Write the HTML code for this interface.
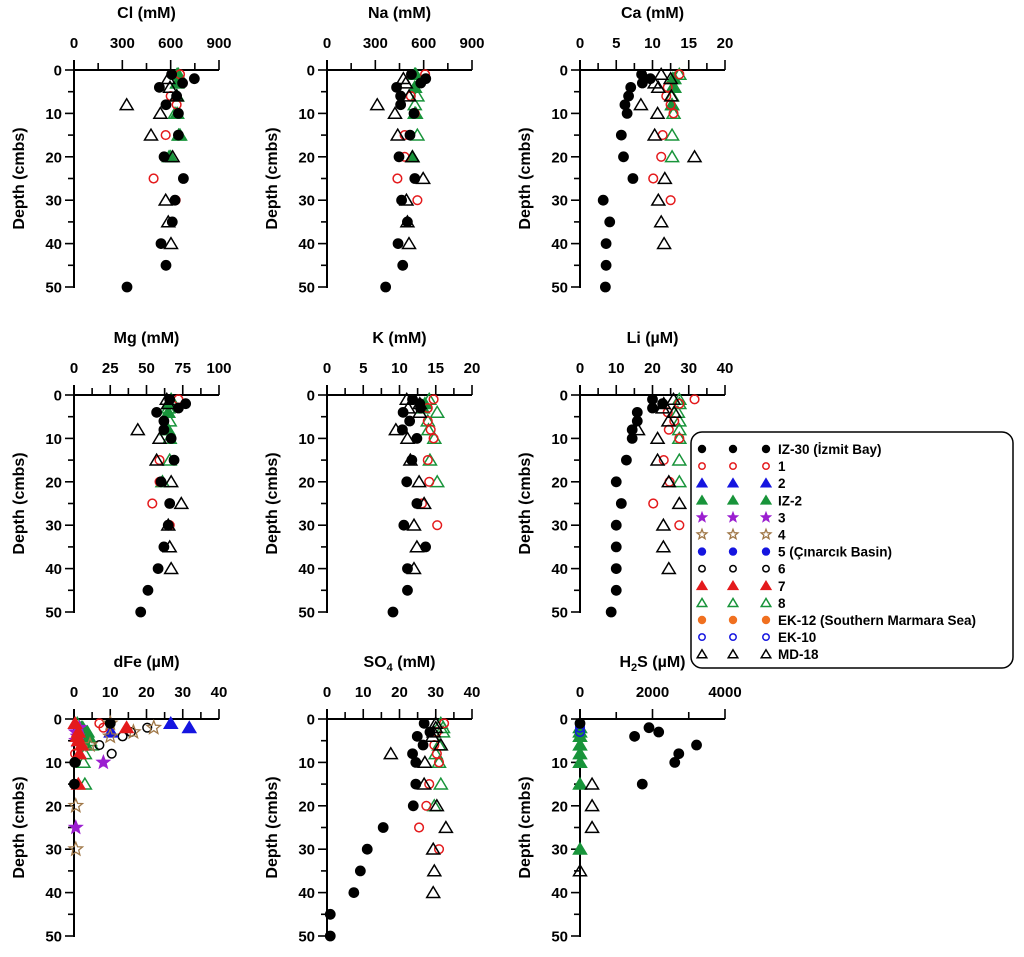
<!DOCTYPE html>
<html><head><meta charset="utf-8">
<style>
html,body{margin:0;padding:0;background:#fff;}
svg{display:block;font-family:"Liberation Sans",Arial,sans-serif;font-weight:bold;}
</style></head>
<body>
<svg id="chart" width="1024" height="957" viewBox="0 0 1024 957" xmlns="http://www.w3.org/2000/svg"></svg>
<script>
// ---- data: [depth (cmbs), value] pairs per station ----
const clIZ30=[[1,606],[2,747],[3,674],[4,530],[6,637],[8,571],[10,648],[15,648],[20,559],[25,679],[30,627],[35,610],[40,540],[45,571],[50,329]];
const cl1=[[1,658],[6,600],[8,637],[10,648],[15,569],[20,559],[25,494],[30,631]];
const clIZ2=[[1,640],[3,640],[6,640],[10,640],[15,650],[20,590]];
const cl8=[[1,648],[3,640],[6,637],[10,627],[15,658],[20,600]];
const clMD18=[[2,585],[4,596],[6,637],[8,327],[10,536],[15,478],[20,612],[30,569],[35,585],[40,602]];

const naIZ30=[[1,524],[2,613],[3,582],[4,432],[6,457],[8,457],[10,540],[15,515],[20,447],[25,545],[30,463],[35,499],[40,441],[45,470],[50,364]];
const na1=[[1,609],[6,520],[10,545],[15,482],[20,482],[25,437],[30,561]];
const naIZ2=[[1,545],[4,545],[10,545],[20,530]];
const na8=[[1,551],[4,545],[6,561],[8,545],[10,551],[15,561],[20,530]];
const naMD18=[[2,474],[3,489],[6,509],[8,312],[10,422],[15,439],[20,530],[25,597],[30,493],[35,499],[40,509]];

const caIZ30=[[1,8.5],[2,9.7],[3,8.6],[4,7.0],[6,6.7],[8,6.2],[10,6.5],[15,5.7],[20,6.0],[25,7.3],[30,3.2],[35,4.1],[40,3.6],[45,3.6],[50,3.5]];
const ca1=[[1,13.7],[4,12.1],[6,11.9],[8,12.5],[10,12.9],[15,11.4],[20,11.2],[25,10.1],[30,12.5]];
const caIZ2=[[2,12.8],[4,12.8],[8,12.7]];
const ca8=[[1,13.7],[2,13.0],[4,13.0],[6,12.7],[8,12.7],[10,12.9],[15,12.7],[20,12.7]];
const caMD18=[[1,11.2],[2,12.5],[3,10.3],[4,10.8],[6,12.6],[8,8.4],[10,10.7],[15,10.3],[20,15.8],[25,11.7],[30,10.8],[35,11.2],[40,11.6]];

const mgIZ30=[[1,66],[2,77],[3,72],[4,57],[6,62],[8,62],[10,67],[15,69],[20,60],[25,66],[30,65],[35,62],[40,58],[45,51],[50,46]];
const mg1=[[1,72],[6,62],[10,67],[15,59],[20,59],[25,54],[30,66]];
const mgIZ2=[[2,65],[4,65],[8,64]];
const mg8=[[1,67],[3,65],[6,66],[8,65],[10,66],[15,66],[20,61]];
const mgMD18=[[1,64],[2,65],[8,44],[10,59],[15,57],[20,67],[25,74],[30,65],[35,66],[40,67]];

const kIZ30=[[1,11.8],[2,12.8],[3,12.9],[4,10.5],[6,11.4],[8,10.4],[10,12.4],[15,11.7],[20,11.0],[25,12.4],[30,10.6],[35,13.6],[40,11.1],[45,11.1],[50,9.1]];
const k1=[[1,14.7],[3,13.9],[6,13.9],[8,14.3],[10,14.7],[15,13.9],[20,14.1],[25,13.1],[30,15.2]];
const kIZ2=[[2,13.5],[3,13.2]];
const k8=[[1,14.1],[4,15.2],[6,13.9],[8,14.0],[10,14.8],[15,14.2],[20,15.2]];
const kMD18=[[1,11.0],[2,12.8],[3,11.2],[4,12.8],[8,9.5],[10,11.1],[15,11.5],[20,12.7],[25,13.4],[30,12.0],[35,12.4],[40,12.0]];

const liIZ30=[[1,20.0],[2,22.8],[3,20.0],[4,15.8],[6,15.8],[8,14.4],[10,14.4],[15,12.8],[20,10.0],[25,11.4],[30,10.0],[35,10.0],[40,10.0],[45,10.0],[50,8.6]];
const li1=[[1,31.6],[2,27.4],[4,24.2],[6,26.0],[8,24.5],[10,27.4],[15,23.1],[20,24.7],[25,20.2],[30,27.4]];
const li8=[[1,27.4],[2,27.4],[4,27.0],[6,27.4],[8,27.4],[10,27.4],[15,27.4],[20,27.4]];
const liMD18=[[1,25.8],[2,23.1],[3,22.8],[4,26.0],[6,24.4],[8,16.0],[10,21.4],[15,21.4],[20,24.5],[25,27.4],[30,23.0],[35,23.0],[40,24.5]];

const feIZ30=[[1,10],[10,0.2],[15,0.1]];
const fe1=[[1,7.0],[2,8.1],[8,0.3]];
const fe2=[[1,26.7],[2,31.8],[3,10.2]];
const feIZ2=[[2,2.4],[3,3.3],[4,3.7],[6,3.3]];
const fe3=[[2,1.5],[3,0.5],[4,1.0],[5,0.6],[10,8.1],[25,0.5]];
const fe4=[[1,10],[2,22],[3,16.4],[4,10],[6,4.4],[20,0.5],[30,0.5]];
const fe6=[[2,20.2],[3,15.7],[4,13.4],[6,7.0],[8,10.4],[10,0.5],[15,0.1]];
const fe7=[[1,0.3],[2,14.5],[3,1.2],[4,0.9],[5,1.2],[6,2.1],[8,1.5],[15,1.2]];
const fe8=[[1,0.9],[2,2.1],[3,3.7],[4,4.0],[5,4.4],[6,4.9],[8,3.0],[10,2.6],[15,3.0]];

const so4IZ30=[[1,26.8],[3,28.4],[4,24.9],[6,26.5],[8,23.6],[10,24.5],[15,24.5],[20,23.8],[25,15.5],[30,11.1],[35,9.2],[40,7.4],[45,0.9],[50,0.9]];
const so41=[[1,32.3],[3,30.3],[6,29.6],[8,30.3],[10,30.9],[15,28.2],[20,27.4],[25,25.4],[30,30.9]];
const so48=[[1,31.4],[2,32.0],[3,32.0],[6,30.9],[8,30.0],[10,30.9],[15,31.4],[20,29.6]];
const so4MD18=[[1,30.0],[2,30.0],[3,29.4],[4,29.1],[6,31.4],[8,17.6],[10,27.0],[15,26.8],[20,30.3],[25,32.8],[30,29.3],[35,29.6],[40,29.3]];

const h2sIZ30=[[1,0],[2,1903],[3,2171],[4,1506],[6,3215],[8,2725],[10,2614],[15,1718]];
const h2sIZ2=[[2,0],[3,0],[4,0],[6,0],[8,0],[10,0],[15,0],[30,0]];
const h2sEK10=[[1,0],[2,0],[3,0]];
const h2sMD18=[[15,333],[20,333],[25,333],[35,0]];

const clTicks=["0","300","600","900"], caTicks=["0","5","10","15","20"], mgTicks=["0","25","50","75","100"], fe40Ticks=["0","10","20","30","40"], h2sTicks=["0","2000","4000"];
const depthTicks=["0","10","20","30","40","50"];

const legendLabels=["IZ-30 (İzmit Bay)","1","2","IZ-2","3","4","5 (Çınarcık Basin)","6","7","8","EK-12 (Southern Marmara Sea)","EK-10","MD-18"];
const legendKeys=["IZ30","s1","s2","IZ2","s3","s4","s5","s6","s7","s8","EK12","EK10","MD18"];

const svg=document.getElementById('chart');
const NS='http://www.w3.org/2000/svg';
function mk(tag,attrs,parent){const e=document.createElementNS(NS,tag);for(const k in attrs)e.setAttribute(k,attrs[k]);(parent||svg).appendChild(e);return e;}

function starPts(cx,cy,R,r){let p=[];for(let i=0;i<10;i++){const a=-Math.PI/2+i*Math.PI/5;const rr=i%2?r:R;p.push((cx+rr*Math.cos(a)).toFixed(1)+','+(cy+rr*Math.sin(a)).toFixed(1));}return p.join(' ');}
function marker(key,x,y,g,s){
  s=s||1.08; let e;
  const tri=(fill,stroke)=>mk('polygon',{points:`${x},${y-5.5*s} ${x-6*s},${y+4.5*s} ${x+6*s},${y+4.5*s}`,fill:fill,stroke:stroke,'stroke-width':1.5},g);
  const circ=(fill,stroke,r)=>mk('circle',{cx:x,cy:y,r:r*s,fill:fill,stroke:stroke,'stroke-width':1.5},g);
  switch(key){
    case 'IZ30': e=circ('#000','#000',4.3);break;
    case 's1': e=circ('none','#e41a1c',4);break;
    case 's2': e=tri('#1515e0','#1515e0');break;
    case 'IZ2': e=tri('#18943a','#18943a');break;
    case 's3': e=mk('polygon',{points:starPts(x,y,6.5*s,2.8*s),fill:'#9b1fd0',stroke:'#9b1fd0'},g);break;
    case 's4': e=mk('polygon',{points:starPts(x,y,6.5*s,2.8*s),fill:'none',stroke:'#a07848','stroke-width':1.3},g);break;
    case 's5': e=circ('#1515e0','#1515e0',4.3);break;
    case 's6': e=circ('none','#000',4);break;
    case 's7': e=tri('#e41a1c','#e41a1c');break;
    case 's8': e=tri('none','#18943a');break;
    case 'EK12': e=circ('#f07020','#f07020',4.3);break;
    case 'EK10': e=circ('none','#1515e0',4);break;
    case 'MD18': e=tri('none','#000');break;
  }
  return e;
}

const W=145,H=217;
function panel(name,title,ax,ay,max,ticks,series){
  const g=mk('g',{});
  
  
  const xs=v=>ax+v/max*W, ys=d=>ay+d/50*H;
  const t=mk('text',{x:ax+W/2,y:24,'text-anchor':'middle','font-size':16},g);
  t.setAttribute('y',ay-52);t.innerHTML=title;
  
  
  const xa=mk('line',{x1:ax-1,y1:ay,x2:ax+W,y2:ay,stroke:'#000','stroke-width':2},g);
  
  
  const ya=mk('line',{x1:ax,y1:ay-10,x2:ax,y2:ay+H+1,stroke:'#000','stroke-width':2},g);
  
  
  const n=ticks.length-1;
  for(let i=0;i<=2*n;i++){const x=ax+i*W/(2*n);mk('line',{x1:x,y1:ay,x2:x,y2:ay-(i%2?7:10),stroke:'#000','stroke-width':1.6},g);}
  ticks.forEach((lab,i)=>{const tl=mk('text',{x:ax+i*W/n,y:ay-22,'text-anchor':'middle','font-size':15},g);tl.textContent=lab;
    
    });
  for(let i=0;i<=10;i++){const y=ay+i*H/10;mk('line',{x1:ax,y1:y,x2:ax-(i%2?6:9),y2:y,stroke:'#000','stroke-width':1.6},g);}
  depthTicks.forEach((lab,i)=>{const tl=mk('text',{x:ax-12,y:ay+i*H/5+5.5,'text-anchor':'end','font-size':15},g);tl.textContent=lab;
    
    });
  const yt=mk('text',{x:0,y:0,'text-anchor':'middle','font-size':16,transform:`translate(${ax-50},${ay+H/2}) rotate(-90)`},g);
  yt.textContent='Depth (cmbs)';
  
  
  series.forEach(([key,arr])=>{arr.forEach(([d,v])=>{const m=marker(key,xs(v),ys(d),g);
    
    });});
}
const C=[74,327,580], R=[70,395,719];
panel('cl','Cl (mM)',C[0],R[0],900,clTicks,[['IZ2',clIZ2],['s8',cl8],['s1',cl1],['MD18',clMD18],['IZ30',clIZ30]]);
panel('na','Na (mM)',C[1],R[0],900,clTicks,[['IZ2',naIZ2],['s8',na8],['s1',na1],['MD18',naMD18],['IZ30',naIZ30]]);
panel('ca','Ca (mM)',C[2],R[0],20,caTicks,[['IZ2',caIZ2],['s8',ca8],['s1',ca1],['MD18',caMD18],['IZ30',caIZ30]]);
panel('mg','Mg (mM)',C[0],R[1],100,mgTicks,[['IZ2',mgIZ2],['s8',mg8],['s1',mg1],['MD18',mgMD18],['IZ30',mgIZ30]]);
panel('k','K (mM)',C[1],R[1],20,caTicks,[['IZ2',kIZ2],['s8',k8],['s1',k1],['MD18',kMD18],['IZ30',kIZ30]]);
panel('li','Li (µM)',C[2],R[1],40,fe40Ticks,[['s8',li8],['s1',li1],['MD18',liMD18],['IZ30',liIZ30]]);
panel('dfe','dFe (µM)',C[0],R[2],40,fe40Ticks,[['s8',fe8],['IZ2',feIZ2],['s6',fe6],['s1',fe1],['s2',fe2],['s4',fe4],['s3',fe3],['s7',fe7],['IZ30',feIZ30]]);
panel('so4','SO<tspan font-size="11" dy="4">4</tspan><tspan dy="-4"> (mM)</tspan>',C[1],R[2],40,fe40Ticks,[['s8',so48],['s1',so41],['MD18',so4MD18],['IZ30',so4IZ30]]);
panel('h2s','H<tspan font-size="11" dy="4">2</tspan><tspan dy="-4">S (µM)</tspan>',C[2],R[2],4000,h2sTicks,[['IZ2',h2sIZ2],['EK10',h2sEK10],['MD18',h2sMD18],['IZ30',h2sIZ30]]);

const lg=mk('g',{});


mk('rect',{x:691,y:432,width:322,height:236,rx:11,ry:11,fill:'#fff',stroke:'#000','stroke-width':1.5},lg);
legendLabels.forEach((lab,i)=>{
  const y=449+i*17.1;
  const row=mk('g',{},lg);
  
  
  [702,733,766].forEach(x=>marker(legendKeys[i],x,y,row,0.8));
  const t=mk('text',{x:778,y:y+5,'font-size':13.5},row);t.textContent=lab;
});
</script>
</body></html>
